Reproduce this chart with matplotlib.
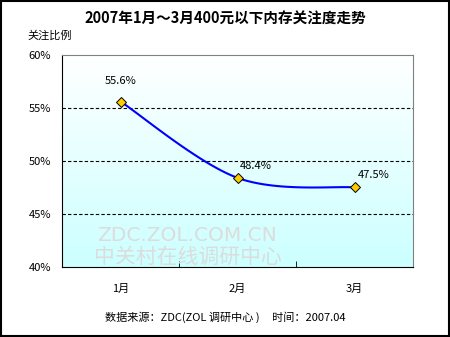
import matplotlib
matplotlib.use('Agg')
from matplotlib import pyplot as plt
from matplotlib.patches import Rectangle
import numpy as np

plt.rcParams['font.family'] = ['Noto Sans CJK SC', 'DejaVu Sans']

# 数据
months = ['1月', '2月', '3月']
values = [55.6, 48.4, 47.5]
labels = ['55.6%', '48.4%', '47.5%']
yticks = [40, 45, 50, 55, 60]

fig = plt.figure(figsize=(4.5, 3.37), dpi=100)
fig.patch.set_facecolor('white')
# 外框
fig.patches.append(Rectangle((0.002, 0.003), 0.995, 0.994, transform=fig.transFigure,
                             fill=False, edgecolor='black', lw=1.5))

ax = fig.add_axes([0.138, 0.208, 0.78, 0.629])
x = np.arange(len(values))
ax.set_xlim(-0.5, 2.5)
ax.set_ylim(40, 60)

# 渐变背景 (上白下浅青)
grad = np.linspace(0, 1, 256).reshape(-1, 1)
top = np.array([1.0, 1.0, 1.0])
bot = np.array([0.80, 1.0, 1.0])
img = top + (bot - top) * grad[..., None]
img = img.reshape(256, 1, 3)
ax.imshow(img, extent=[-0.5, 2.5, 40, 60], origin='upper', aspect='auto', zorder=0)

# 平滑曲线 (Bezier)
pts = np.column_stack([x, values]).astype(float)
ext = np.vstack([pts[0], pts, pts[-1]])
curve = []
t = np.linspace(0, 1, 60)[:, None]
for i in range(len(pts) - 1):
    p0, p1, p2, p3 = ext[i], ext[i + 1], ext[i + 2], ext[i + 3]
    c1 = p1 + (p2 - p0) / 6
    c2 = p2 - (p3 - p1) / 6
    seg = ((1 - t) ** 3) * p1 + 3 * ((1 - t) ** 2) * t * c1 + 3 * (1 - t) * t ** 2 * c2 + t ** 3 * p2
    curve.append(seg)
curve = np.vstack(curve)
ax.plot(curve[:, 0], curve[:, 1], color='#0000ff', lw=1.5, zorder=3)
ax.plot(x, values, ls='none', marker='D', ms=5.5, mfc='#ffcc00', mec='black', mew=0.7, zorder=4)

# 数据标签
offsets = [(0, 11), (13, 5), (14, 5)]
for xi, v, lab, off in zip(x, values, labels, offsets):
    ax.annotate(lab, (xi, v), xytext=off, textcoords='offset points',
                ha='center', va='bottom', fontsize=8, color='black', zorder=5)

# 网格
for yv in [45, 50, 55]:
    ax.axhline(yv, color='black', lw=0.8, ls=(0, (3, 2)), zorder=1)

ax.set_yticks(yticks)
ax.set_yticklabels([f'{v}%' for v in yticks], fontsize=8)
ax.tick_params(axis='y', length=0, pad=8)
ax.set_xticks(x)
ax.set_xticklabels(months, fontsize=8)
ax.tick_params(axis='x', which='major', length=0, pad=12)
ax.set_xticks([0.5, 1.5], minor=True)
ax.tick_params(axis='x', which='minor', direction='in', length=4, color='black')

ax.spines['left'].set_color('black')
ax.spines['bottom'].set_color('black')
ax.spines['top'].set_color('#808080')
ax.spines['right'].set_color('#808080')

# 水印
ax.text(0.1, 0.12, 'ZDC.ZOL.COM.CN', transform=ax.transAxes, fontsize=14.5,
        color='#dcdcdc', family='DejaVu Sans', zorder=2)
ax.text(0.09, 0.02, '中关村在线调研中心', transform=ax.transAxes, fontsize=15,
        color='#dcdcdc', zorder=2)

fig.text(0.5, 0.945, '2007年1月～3月400元以下内存关注度走势', ha='center', va='center',
         fontsize=10.5, fontweight='bold')
fig.text(0.06, 0.895, '关注比例', ha='left', va='center', fontsize=8)
fig.text(0.5, 0.06, '数据来源：ZDC(ZOL 调研中心 )     时间：2007.04', ha='center',
         va='center', fontsize=8)

plt.savefig('out.png', dpi=100)
